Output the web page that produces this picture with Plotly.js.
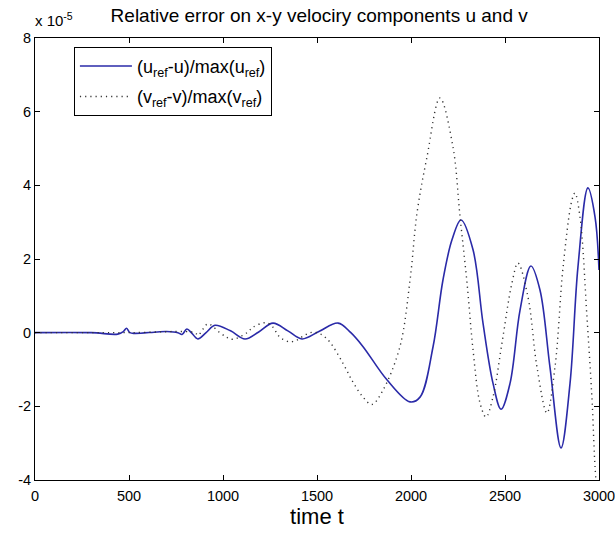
<!DOCTYPE html>
<html>
<head>
<meta charset="utf-8">
<script src="https://cdn.plot.ly/plotly-3.0.1.min.js"></script>
<style>html,body{margin:0;padding:0;background:#fff;}#chart{width:615px;height:538px;}</style>
</head>
<body>
<div id="chart"></div>
<script>
// time values and errors (in units of 1e-5)
const tU = [0, 300, 440, 470, 487, 505, 530, 650, 700, 760, 782, 808, 835, 866, 910, 957, 1040, 1117, 1190, 1266, 1345, 1420, 1510, 1612, 1680, 1745, 1872, 1995, 2048, 2117, 2170, 2218, 2266, 2330, 2383, 2436, 2479, 2527, 2580, 2638, 2686, 2739, 2798, 2846, 2888, 2941, 2979, 3000];
const uErr = [0, 0, -0.04, 0.03, 0.12, 0.0, -0.02, 0.02, 0.03, 0.0, -0.05, 0.1, -0.02, -0.17, 0.0, 0.2, 0.05, -0.17, 0.02, 0.26, 0.05, -0.17, 0.03, 0.26, 0.0, -0.38, -1.28, -1.88, -1.75, -0.39, 1.43, 2.52, 3.06, 2.25, 0.26, -1.37, -2.08, -1.37, 0.61, 1.81, 1.16, -0.93, -3.13, -1.37, 1.78, 3.93, 3.14, 1.7];

const tV = [0, 500, 850, 867, 894, 920, 984, 1021, 1053, 1128, 1160, 1229, 1266, 1293, 1319, 1356, 1393, 1425, 1463, 1500, 1530, 1568, 1638, 1691, 1745, 1792, 1851, 1941, 1995, 2032, 2085, 2154, 2223, 2261, 2298, 2330, 2367, 2399, 2436, 2484, 2537, 2569, 2622, 2670, 2723, 2766, 2809, 2856, 2872, 2899, 2936, 2963, 2979, 3000];
const vErr = [0, 0, 0, -0.07, 0.1, 0.24, 0, -0.13, -0.18, 0, 0.15, 0.27, 0.15, -0.07, -0.18, -0.25, -0.2, -0.1, 0, 0, -0.07, -0.25, -0.83, -1.34, -1.75, -1.95, -1.56, -0.38, 1.43, 3.25, 4.77, 6.37, 5.05, 3.14, 1.35, -0.47, -1.91, -2.29, -1.75, -0.28, 1.35, 1.89, 0.97, -0.93, -2.18, -0.93, 1.78, 3.6, 3.79, 3.14, 0.42, -1.83, -3.65, -5];

const xTicks = [0, 500, 1000, 1500, 2000, 2500, 3000];
const yTicks = [-4, -2, 0, 2, 4, 6, 8];

const nameU = '(u<sub>ref</sub>-u)/max(u<sub>ref</sub>)';
const nameV = '(v<sub>ref</sub>-v)/max(v<sub>ref</sub>)';
const titleText = 'Relative error on x-y velociry components u and v';
const xTitle = 'time t';
const scaleText = 'x 10<sup>-5</sup>';

const font = 'Liberation Sans, Arial, sans-serif';

const traces = [
  {x: tU, y: uErr, name: nameU, mode: 'lines', type: 'scatter', legendgroup: 'a',
   line: {color: '#2a2aa8', width: 1.6, shape: 'spline', smoothing: 1}},
  {x: tV, y: vErr, name: nameV, mode: 'lines', type: 'scatter', legendgroup: 'b',
   line: {color: '#333333', width: 1.4, dash: '1.2px,4px', shape: 'spline', smoothing: 1}}
];

const axisCommon = {
  showline: true, linecolor: '#000', linewidth: 1, mirror: 'ticks',
  ticks: 'inside', ticklen: 5, tickcolor: '#000', showgrid: false, zeroline: false,
  tickfont: {family: font, size: 14.5, color: '#000'}, ticklabeloverflow: 'allow'
};

const layout = {
  width: 615, height: 538,
  margin: {l: 35, r: 16, t: 38, b: 58},
  paper_bgcolor: '#fff', plot_bgcolor: '#fff',
  font: {family: font, color: '#000'},
  title: {text: titleText, font: {family: font, size: 19, color: '#000'}, x: 0.519, xanchor: 'center', y: 0.972, yanchor: 'middle'},
  xaxis: Object.assign({}, axisCommon, {range: [0, 3000], tickvals: xTicks, ticktext: xTicks.map(String), ticklabelstandoff: 3,
    title: {text: xTitle, font: {family: font, size: 22, color: '#000'}, standoff: 5}}),
  yaxis: Object.assign({}, axisCommon, {range: [-4, 8], tickvals: yTicks, ticktext: yTicks.map(String)}),
  showlegend: true,
  legend: {x: 0.069, y: 0.98, xanchor: 'left', yanchor: 'top', bgcolor: '#fff',
    bordercolor: '#000', borderwidth: 1, font: {family: font, size: 18, color: '#000'},
    itemwidth: 52, tracegroupgap: 4},
  annotations: [{text: scaleText, xref: 'paper', yref: 'paper', x: -0.004, y: 1.015, xanchor: 'left', yanchor: 'bottom',
    showarrow: false, font: {family: font, size: 15, color: '#000'}}]
};

Plotly.newPlot('chart', traces, layout, {displayModeBar: false, staticPlot: true});
</script>
</body>
</html>
